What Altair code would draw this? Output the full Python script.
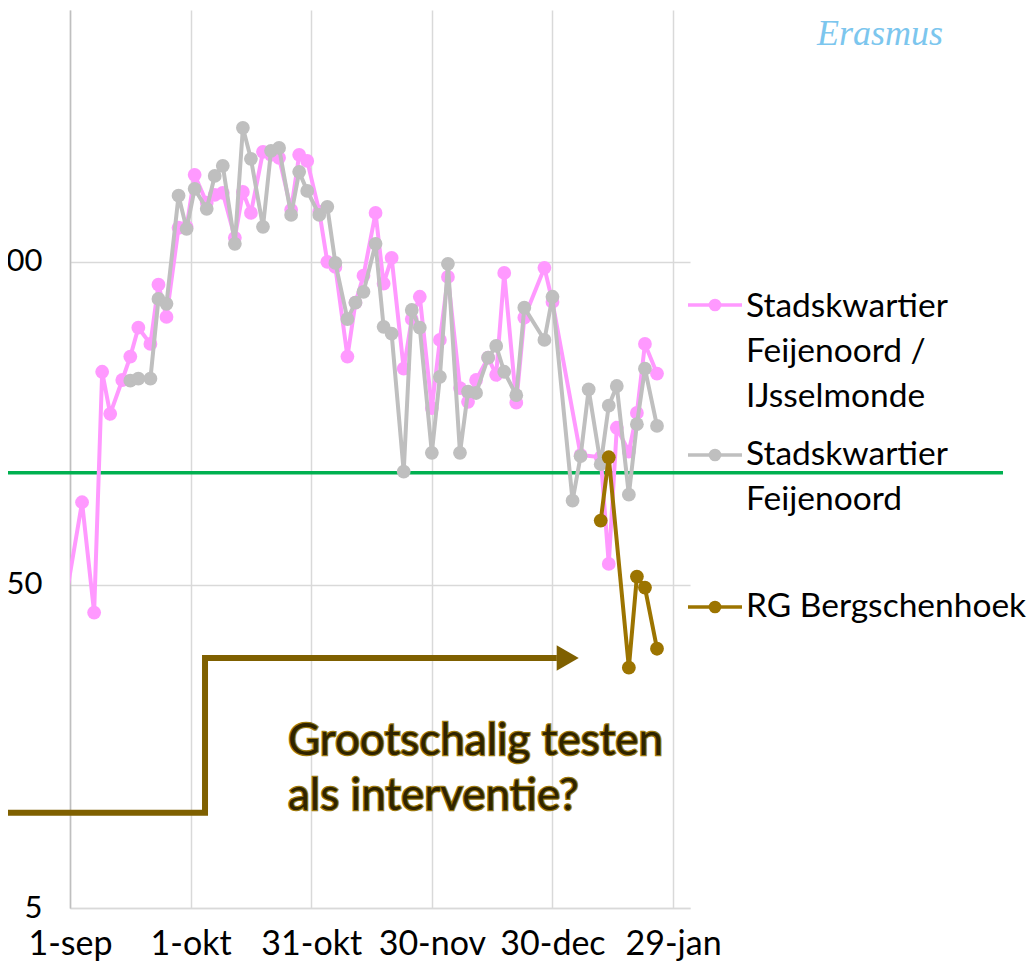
import altair as alt
import pandas as pd

# ---------------- data ----------------
DATES = [
    "2020-08-30", "2020-09-04", "2020-09-07", "2020-09-09", "2020-09-11", "2020-09-14",
    "2020-09-16", "2020-09-18", "2020-09-21", "2020-09-23", "2020-09-25", "2020-09-28",
    "2020-09-30", "2020-10-02", "2020-10-05", "2020-10-07", "2020-10-09", "2020-10-12",
    "2020-10-14", "2020-10-16", "2020-10-19", "2020-10-21", "2020-10-23", "2020-10-26",
    "2020-10-28", "2020-10-30", "2020-11-02", "2020-11-04", "2020-11-06", "2020-11-09",
    "2020-11-11", "2020-11-13", "2020-11-16", "2020-11-18", "2020-11-20", "2020-11-23",
    "2020-11-25", "2020-11-27", "2020-11-30", "2020-12-02", "2020-12-04", "2020-12-07",
    "2020-12-09", "2020-12-11", "2020-12-14", "2020-12-16", "2020-12-18", "2020-12-21",
    "2020-12-23", "2020-12-28", "2020-12-30", "2021-01-04", "2021-01-06", "2021-01-08",
    "2021-01-11", "2021-01-13", "2021-01-15", "2021-01-18", "2021-01-20", "2021-01-22",
    "2021-01-25",
]
PINK = [
    38.5, 90, 41, 228, 169, 215, 254, 312, 278, 424,
    337, 636, 640, 927, 760, 804, 816, 592, 821, 707,
    1092, 1069, 1047, 723, 1069, 1024, 713, 499, 481, 254,
    373, 452, 707, 427, 513, 233, 332, 389, 176, 286,
    448, 203, 184, 215, 252, 223, 461, 183, 335, 478,
    375, None, 126, None, 124, 58, 153, 129, 170, 278, 225,
]
GRAY = [
    None, None, None, None, None, None, 214, 217, 217, 383,
    370, 799, 631, 839, 728, 920, 989, 567, 1296, 1039,
    640, 1100, 1123, 697, 947, 827, 697, 738, 495, 332,
    373, 403, 567, 314, 299, 112, 354, 312, 128, 220,
    492, 128, 198, 196, 252, 274, 228, 193, 360, 286,
    389, 91, 125, 201, 118, 179, 206, 95, 157, 233, 155,
]
BROWN = [None] * 54 + [79, 124, None, 27.7, 53, 49, 31.7]

SERIES = ["Stadskwartier Feijenoord / IJsselmonde", "Stadskwartier Feijenoord", "RG Bergschenhoek"]
LEGEND_LINES = [["Stadskwartier", "Feijenoord /", "IJsselmonde"], ["Stadskwartier", "Feijenoord"], ["RG Bergschenhoek"]]
COLORS = ["#FF99FF", "#BFBFBF", "#9C7400"]

THRESHOLD = [111]

X_TICKS = ["2020-09-01", "2020-10-01", "2020-10-31", "2020-11-30", "2020-12-30", "2021-01-29"]
Y_TICKS = [5, 50, 500]

ARROW_DATES = ["2020-08-14T00:00:00Z", "2020-10-04T14:00:00Z", "2020-10-04T14:00:00Z", "2020-12-31T02:00:00Z"]
ARROW_VALUES = [9.86, 9.86, 29.7, 29.7]
ARROW_HEAD_DATE = ["2021-01-02T19:00:00Z"]
ARROW_HEAD_VALUE = [29.7]
ANNOTATION = ["Grootschalig testen", "als interventie?"]
LOGO = "Erasmus"

FONT = "Lato"


def ms(s):
    return int(pd.Timestamp(s, tz="UTC").value // 10**6)


def series_df(values):
    rows = [(d, v) for d, v in zip(DATES, values) if v is not None]
    return pd.DataFrame(rows, columns=["date", "value"])


x_scale = alt.Scale(type="utc", domain=[ms("2020-09-01"), ms("2021-02-02T05:00:00")])
y_scale = alt.Scale(type="log", domain=[5, 3000], nice=False)

month_names = "['jan','feb','mrt','apr','mei','jun','jul','aug','sep','okt','nov','dec']"
x_axis = alt.Axis(
    values=[ms(t) for t in X_TICKS],
    labelExpr="utcdate(datum.value) + '-' + " + month_names + "[utcmonth(datum.value)]",
    title=None, grid=True, gridColor="#D9D9D9", gridWidth=1.5,
    ticks=False, tickSize=0, domainColor="#D9D9D9", domainWidth=1.5,
    labelFont=FONT, labelFontSize=34, labelColor="#000000",
    labelPadding=46, labelBaseline="alphabetic", labelAngle=0,
    labelOverlap=False, labelFlush=False,
)
y_axis = alt.Axis(
    values=Y_TICKS, title=None, grid=True, gridColor="#D9D9D9", gridWidth=1.5,
    ticks=False, tickSize=0, domainColor="#BFBFBF", domainWidth=1.5,
    labelFont=FONT, labelFontSize=31, labelColor="#000000",
    labelPadding=28, labelBaseline="middle", labelOverlap=False, labelFlush=False,
)

X = alt.X("date:T", scale=x_scale, axis=x_axis)
Y = alt.Y("value:Q", scale=y_scale, axis=y_axis)

one = pd.DataFrame({"a": [0]})

layers = []

# green threshold line (runs beyond the plot into the legend)
layers.append(
    alt.Chart(pd.DataFrame({"value": THRESHOLD})).mark_rule(color="#00B050", strokeWidth=3.5)
    .encode(y=Y, x=alt.value(-62), x2=alt.value(933))
)

# arrow annotation
arrow_df = pd.DataFrame({"date": ARROW_DATES, "value": ARROW_VALUES, "order": list(range(len(ARROW_DATES)))})
layers.append(
    alt.Chart(arrow_df).mark_line(color="#7F6000", strokeWidth=6, strokeJoin="miter", strokeCap="butt", clip=False)
    .encode(x=X, y=Y, order="order:Q")
)
layers.append(
    alt.Chart(pd.DataFrame({"date": ARROW_HEAD_DATE, "value": ARROW_HEAD_VALUE}))
    .mark_point(shape="triangle-right", filled=True, size=650, color="#7F6000", opacity=1)
    .encode(x=X, y=Y)
)

# data series
for vals, col in zip([PINK, GRAY, BROWN], COLORS):
    df = series_df(vals)
    layers.append(alt.Chart(df).mark_line(color=col, strokeWidth=4, clip=True).encode(x=X, y=Y))
    layers.append(alt.Chart(df).mark_point(color=col, filled=True, size=190, opacity=1, clip=True).encode(x=X, y=Y))

# annotation text
layers.append(
    alt.Chart(one).mark_text(text=ANNOTATION, font=FONT, fontSize=44, align="left", baseline="alphabetic",
                             lineHeight=55, fill="#9C7A10", stroke="#9C7A10", strokeWidth=2.5)
    .encode(x=alt.value(218), y=alt.value(745))
)
layers.append(
    alt.Chart(one).mark_text(text=ANNOTATION, font=FONT, fontSize=44, align="left", baseline="alphabetic",
                             lineHeight=55, fill="#2E2300")
    .encode(x=alt.value(218), y=alt.value(745))
)

# manual legend
legend_y = [295, 445, 597]
legend_text_y = [306.7, 455, 606.7]
for lines, col, ly, ty in zip(LEGEND_LINES, COLORS, legend_y, legend_text_y):
    layers.append(alt.Chart(one).mark_rule(color=col, strokeWidth=3.5)
                  .encode(x=alt.value(618), x2=alt.value(672), y=alt.value(ly)))
    layers.append(alt.Chart(one).mark_point(color=col, filled=True, size=160, opacity=1)
                  .encode(x=alt.value(645), y=alt.value(ly)))
    layers.append(alt.Chart(one).mark_text(text=lines, font=FONT, fontSize=33.5, align="left",
                                           baseline="alphabetic", lineHeight=45, color="#000000")
                  .encode(x=alt.value(676), y=alt.value(ty)))

# logo text
layers.append(
    alt.Chart(one).mark_text(text=LOGO, font="Liberation Serif", fontStyle="italic", fontSize=36,
                             color="#7CC6EE", align="center", baseline="middle")
    .encode(x=alt.value(810), y=alt.value(24))
)

chart = alt.layer(*layers).properties(
    width=620, height=898,
    autosize=alt.AutoSizeParams(type="none"),
    padding={"left": 62, "top": 2, "right": 337, "bottom": 54},
    background="#FFFFFF",
).configure_view(stroke=None)

chart.save("out.html", embed_options={"renderer": "svg", "actions": False})
